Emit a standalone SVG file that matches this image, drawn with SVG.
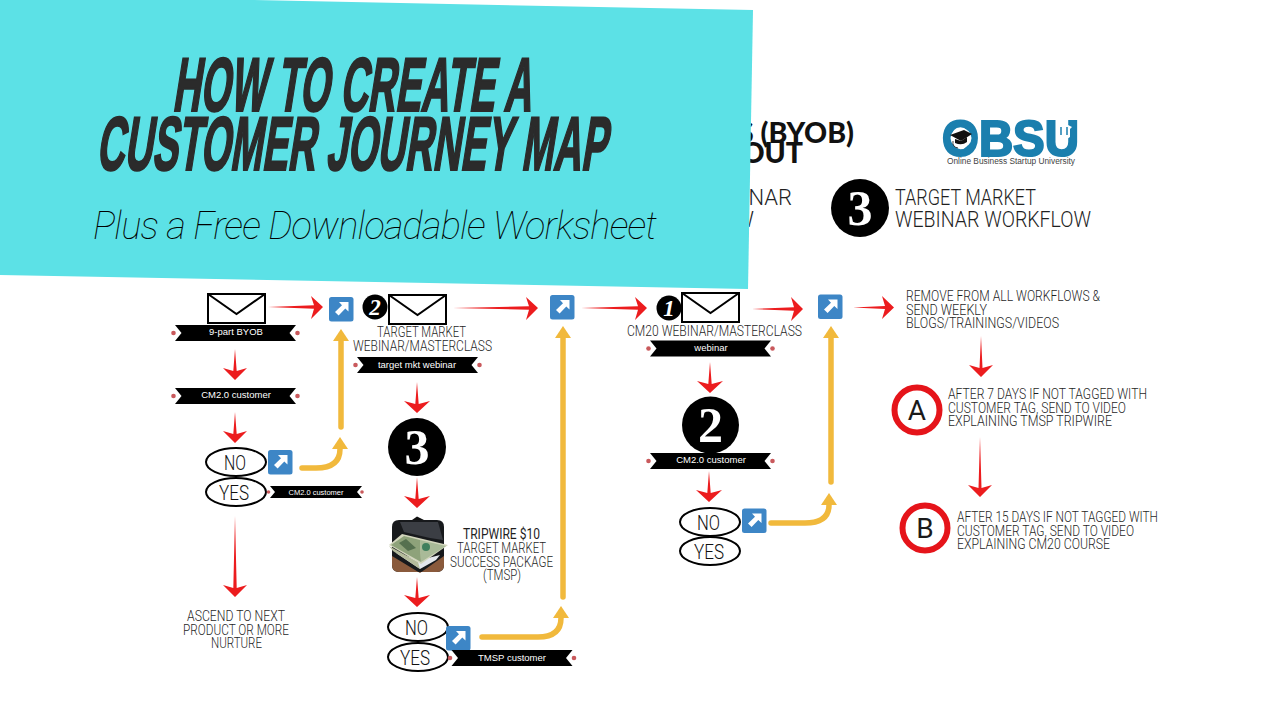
<svg xmlns="http://www.w3.org/2000/svg" width="1280" height="720" viewBox="0 0 1280 720">
<style>
.lbl{font-family:"Roboto","Liberation Sans",sans-serif;font-weight:300;fill:#1f1f1f;font-size:14px}
.rib{font-family:"Liberation Sans",Arial,sans-serif;fill:#fff;font-size:9.5px;text-anchor:middle}
.yn{font-family:"Roboto","Liberation Sans",sans-serif;font-weight:300;fill:#111;font-size:21px}
.ell{fill:#fff;stroke:#000;stroke-width:2}
.disc{fill:#000}
.num{font-family:"Liberation Serif",serif;font-weight:700;fill:#fff;text-anchor:middle}
.red{fill:#ec1c1e}
.yl{fill:none;stroke:#f1b93c;stroke-width:5.5;stroke-linecap:round}
.ring{fill:#fff;stroke:#e5141a;stroke-width:6}
.let{font-family:"Roboto","Liberation Sans",sans-serif;font-size:28px;fill:#1a1a1a;text-anchor:middle}
.title{font-family:"Liberation Sans Narrow","Liberation Sans",sans-serif;font-weight:700;font-size:76px;fill:#2b2b2b;stroke:#2b2b2b;stroke-width:2.2}
.script{font-family:"Roboto","Liberation Sans",sans-serif;font-weight:100;font-style:italic;font-size:38px;fill:#000}
.head{font-family:"Lato","Liberation Sans",sans-serif;font-weight:900;font-size:28.5px;fill:#111}
</style>
<defs>
<marker id="yh" markerUnits="userSpaceOnUse" markerWidth="12" markerHeight="16" viewBox="0 0 12 16" refX="0" refY="8" orient="auto">
<path d="M0,0 L12,8 L0,16 Z" fill="#f1b93c"/>
</marker>
<g id="env"><rect x="0" y="0" width="57" height="29" fill="#fff" stroke="#000" stroke-width="2"/><path d="M0,0 L28.5,20 L57,0" fill="none" stroke="#000" stroke-width="2"/></g>
<g id="ico"><rect width="24.5" height="24.5" rx="2.5" fill="#3d86c6"/><path d="M19.5,5 L19.5,14.5 L16.3,11.4 L9.6,18.6 L6,15 L13,8.2 L10,5 Z" fill="#fff"/></g>
<g id="ribbon"><path d="M-60.500,0 H60.500 L54,8 L60.500,16 H-60.500 L-54,8 Z" fill="#000"/><circle cx="-62" cy="8" r="2.300" fill="#c9595c"/><circle cx="62" cy="8" r="2.300" fill="#c9595c"/></g>
</defs>
<rect width="1280" height="720" fill="#fff"/>

<g id="connectors">
<path class="red" d="M268,307 L314,305.300 L311,296 L323,307 L311,319 L314,308.700 Z"/>
<path class="red" d="M453,308 L529,306.300 L526,297 L538,308 L526,320 L529,309.700 Z"/>
<path class="red" d="M581,308 L638,306.300 L635,297 L647,308 L635,320 L638,309.700 Z"/>
<path class="red" d="M752,309 L794,307.300 L791,297 L803,309 L791,321 L794,310.700 Z"/>
<path class="red" d="M853,307.500 L885,306 L882,296 L894,307.500 L882,319 L885,309 Z"/>
<path class="red" d="M235,349 L236.700,371 L247,368 L235,380 L223,368 L233.300,371 Z"/>
<path class="red" d="M235,412 L236.700,434 L247,431 L235,443 L223,431 L233.300,434 Z"/>
<path class="red" d="M235,516 L236.700,588 L247,585 L235,597 L223,585 L233.300,588 Z"/>
<path class="red" d="M417,382 L418.700,404 L430,401 L417,413 L404,401 L415.300,404 Z"/>
<path class="red" d="M417,477 L418.700,499 L430,496 L417,508 L404,496 L415.300,499 Z"/>
<path class="red" d="M417,577 L418.700,598 L430,595 L417,607 L404,595 L415.300,598 Z"/>
<path class="red" d="M710,362 L711.700,384 L723,381 L710,393 L697,381 L708.300,384 Z"/>
<path class="red" d="M709,471 L710.700,493 L722,490 L709,502 L696,490 L707.300,493 Z"/>
<path class="red" d="M981,336 L982.500,368 L993,365 L981,377 L969,365 L979.500,368 Z"/>
<path class="red" d="M980,437 L981.500,488 L992,485 L980,497 L968,485 L978.500,488 Z"/>

<path class="yl" d="M341,427 V341" marker-end="url(#yh)"/>
<path class="yl" d="M302,468 H316 Q340,468 340,449" marker-end="url(#yh)"/>
<path class="yl" d="M563,597 V338" marker-end="url(#yh)"/>
<path class="yl" d="M482,637 H538 Q561,637 561,618" marker-end="url(#yh)"/>
<path class="yl" d="M831,482 V338" marker-end="url(#yh)"/>
<path class="yl" d="M771,523 H805 Q829,523 829,505" marker-end="url(#yh)"/>
</g>

<g id="node-byob-mail"><use href="#env" x="208" y="294"/></g>
<g id="node-byob-tag"><use href="#ribbon" x="235.500" y="325"/><text class="rib" x="236" y="335">9-part BYOB</text></g>
<g id="node-cm-tag-1"><use href="#ribbon" x="235.500" y="388"/><text class="rib" x="236" y="398">CM2.0 customer</text></g>
<g id="node-no-1"><ellipse class="ell" cx="236" cy="462" rx="30" ry="14"/><text class="yn" x="224" y="470" textLength="22" lengthAdjust="spacingAndGlyphs">NO</text></g>
<g id="node-yes-1"><ellipse class="ell" cx="236" cy="492" rx="30" ry="14"/><text class="yn" x="219" y="499.500" textLength="30" lengthAdjust="spacingAndGlyphs">YES</text></g>
<g id="node-cm-tag-small"><path d="M270,486 H362 L357,492 L362,498 H270 L275,492 Z" fill="#000"/><circle cx="268.500" cy="492" r="1.800" fill="#c9595c"/><circle cx="362" cy="492" r="1.800" fill="#c9595c"/><text class="rib" x="316" y="495" style="font-size:7.500px">CM2.0 customer</text></g>
<g id="node-ascend">
<text class="lbl" x="187" y="621" textLength="98" lengthAdjust="spacingAndGlyphs">ASCEND TO NEXT</text>
<text class="lbl" x="183" y="635" textLength="106" lengthAdjust="spacingAndGlyphs">PRODUCT OR MORE</text>
<text class="lbl" x="211" y="648" textLength="51" lengthAdjust="spacingAndGlyphs">NURTURE</text>
</g>
<g id="node-icon-1"><use href="#ico" x="329" y="297"/></g>
<g id="node-icon-2"><use href="#ico" x="268" y="450"/></g>
<g id="node-icon-3"><use href="#ico" x="550" y="295"/></g>
<g id="node-icon-4"><use href="#ico" x="818" y="294.500"/></g>
<g id="node-icon-5"><use href="#ico" x="742" y="508.500"/></g>

<g id="node-tm-webinar">
<circle class="disc" cx="375" cy="307" r="12.500"/>
<text class="num" x="375" y="315" style="font-size:23px;font-style:italic">2</text>
<use href="#env" x="389" y="295"/>
<text class="lbl" x="377" y="337" textLength="89" lengthAdjust="spacingAndGlyphs">TARGET MARKET</text>
<text class="lbl" x="353" y="351" textLength="139" lengthAdjust="spacingAndGlyphs">WEBINAR/MASTERCLASS</text>
<use href="#ribbon" x="417.500" y="357"/><text class="rib" x="417" y="367.500">target mkt webinar</text>
</g>
<g id="node-three"><circle class="disc" cx="417" cy="447" r="29"/><text class="num" x="417" y="464" style="font-size:50px">3</text></g>
<g id="node-tripwire">
<path d="M412,520 L417,516.500 L424,520 Z" fill="#111"/>
<path d="M399,520 H437 Q444,520 444,527 V565 Q444,572 437,572 H399 Q392,572 392,565 V527 Q392,520 399,520 Z" fill="#17191c"/>
<path d="M400,522 H438 L443,540 L430,538 L404,532 Z" fill="#3b3e44"/>
<path d="M392,556 L420,573 L444,556 V565 Q444,572 437,572 H399 Q392,572 392,565 Z" fill="#8a5a3c"/>
<path d="M396,553 L420,569 L436,560 L440,555 L420,560 Z" fill="#e4e7ec"/>
<path d="M389,546 L418,562 L420,569 L393,551 Z" fill="#b5bb9c"/>
<path d="M389,545 L402,534 L448,545 L421,564 Z" fill="#d3d6bd"/>
<path d="M391,545 L404,536 L420,540 L421,562 Z" fill="#8ea27a"/>
<path d="M399,543 L406,539 L416,548 L408,551 Z" fill="#55704f"/>
<path d="M420,540 L446,546 L421,562 Z" fill="#a9ba98"/>
<circle cx="426" cy="547" r="4" fill="#3f7f5d"/>
<text class="lbl" x="463" y="539" textLength="77" lengthAdjust="spacingAndGlyphs" style="font-weight:400">TRIPWIRE $10</text>
<text class="lbl" x="457" y="553" textLength="89" lengthAdjust="spacingAndGlyphs">TARGET MARKET</text>
<text class="lbl" x="450" y="567" textLength="103" lengthAdjust="spacingAndGlyphs">SUCCESS PACKAGE</text>
<text class="lbl" x="483" y="580" textLength="38" lengthAdjust="spacingAndGlyphs">(TMSP)</text>
</g>
<g id="node-no-2"><ellipse class="ell" cx="418" cy="627" rx="30" ry="14"/><text class="yn" x="405" y="635" textLength="23" lengthAdjust="spacingAndGlyphs">NO</text></g>
<g id="node-yes-2"><ellipse class="ell" cx="418" cy="657" rx="30" ry="14"/><text class="yn" x="400" y="665" textLength="30" lengthAdjust="spacingAndGlyphs">YES</text></g>
<g id="node-icon-6"><use href="#ico" x="446" y="626"/></g>
<g id="node-tmsp-tag"><use href="#ribbon" x="512" y="650"/><text class="rib" x="512" y="660.500">TMSP customer</text></g>

<g id="node-cm-webinar">
<circle class="disc" cx="669" cy="308" r="12.500"/>
<text class="num" x="669" y="316" style="font-size:23px;font-style:italic">1</text>
<use href="#env" x="682" y="293"/>
<text class="lbl" x="627" y="336" textLength="175" lengthAdjust="spacingAndGlyphs">CM20 WEBINAR/MASTERCLASS</text>
<use href="#ribbon" x="710.500" y="340.500"/><text class="rib" x="711" y="350.500">webinar</text>
</g>
<g id="node-two"><circle class="disc" cx="710.500" cy="425" r="28.500"/><text class="num" x="710.500" y="442" style="font-size:50px">2</text></g>
<g id="node-cm-tag-2"><use href="#ribbon" x="710.500" y="453"/><text class="rib" x="711" y="463">CM2.0 customer</text></g>
<g id="node-no-3"><ellipse class="ell" cx="710" cy="522" rx="30" ry="14"/><text class="yn" x="697" y="530" textLength="23" lengthAdjust="spacingAndGlyphs">NO</text></g>
<g id="node-yes-3"><ellipse class="ell" cx="710" cy="551" rx="30" ry="14"/><text class="yn" x="694" y="559" textLength="30" lengthAdjust="spacingAndGlyphs">YES</text></g>

<g id="node-remove">
<text class="lbl" x="906" y="301" textLength="194" lengthAdjust="spacingAndGlyphs">REMOVE FROM ALL WORKFLOWS &amp;</text>
<text class="lbl" x="906" y="314.500" textLength="81" lengthAdjust="spacingAndGlyphs">SEND WEEKLY</text>
<text class="lbl" x="906" y="328" textLength="153" lengthAdjust="spacingAndGlyphs">BLOGS/TRAININGS/VIDEOS</text>
</g>
<g id="node-a">
<circle class="ring" cx="917" cy="410" r="22.500"/><text class="let" x="917" y="420">A</text>
<text class="lbl" x="948" y="399" textLength="199" lengthAdjust="spacingAndGlyphs">AFTER 7 DAYS IF NOT TAGGED WITH</text>
<text class="lbl" x="948" y="412.500" textLength="178" lengthAdjust="spacingAndGlyphs">CUSTOMER TAG, SEND TO VIDEO</text>
<text class="lbl" x="948" y="426" textLength="164" lengthAdjust="spacingAndGlyphs">EXPLAINING TMSP TRIPWIRE</text>
</g>
<g id="node-b">
<circle class="ring" cx="925" cy="528" r="22.500"/><text class="let" x="925" y="538">B</text>
<text class="lbl" x="957" y="522" textLength="201" lengthAdjust="spacingAndGlyphs">AFTER 15 DAYS IF NOT TAGGED WITH</text>
<text class="lbl" x="957" y="535.500" textLength="177" lengthAdjust="spacingAndGlyphs">CUSTOMER TAG, SEND TO VIDEO</text>
<text class="lbl" x="957" y="549" textLength="153" lengthAdjust="spacingAndGlyphs">EXPLAINING CM20 COURSE</text>
</g>

<g id="heading-behind">
<text class="head" x="854" y="143" text-anchor="end">S (BYOB)</text>
<text class="head" x="803" y="163" text-anchor="end">OUT</text>
<text class="lbl" x="792" y="205" text-anchor="end" style="font-size:22px">INAR</text>
<text class="lbl" x="754" y="227" text-anchor="end" style="font-size:22px">W</text>
</g>
<g id="logo">
<text x="942" y="155.500" textLength="137" lengthAdjust="spacingAndGlyphs" style="font-family:'Liberation Sans',sans-serif;font-weight:700;font-size:50px;fill:#1b7fae;stroke:#1b7fae;stroke-width:2.2">OBSU</text>
<ellipse cx="961" cy="138" rx="10.500" ry="10" fill="#fff"/>
<path d="M950,135 L964,130 L972,134 L961,141 Z" fill="#111"/>
<path d="M955,139 V143 Q962,146 967,142 V137 L961,141 Z" fill="#111"/>
<path d="M953,141 Q952,147 958,148" fill="none" stroke="#111" stroke-width="0.800"/>
<path d="M1056,127 L1064,123 L1072,127 L1070,129 V137 Q1064,142 1058,137 V129 Z" fill="#fff"/>
<path d="M1061,127 V135 M1067,127 V135" stroke="#1b7fae" stroke-width="1.500"/>
<text x="947" y="164" textLength="128" lengthAdjust="spacingAndGlyphs" style="font-family:'Liberation Sans',sans-serif;font-size:8.500px;fill:#444">Online Business Startup University</text>
</g>
<g id="node-three-head">
<circle class="disc" cx="860" cy="208" r="29"/><text class="num" x="860" y="225" style="font-size:50px">3</text>
<text class="lbl" x="895" y="205" textLength="141" lengthAdjust="spacingAndGlyphs" style="font-size:22px">TARGET MARKET</text>
<text class="lbl" x="895" y="227" textLength="196" lengthAdjust="spacingAndGlyphs" style="font-size:22px">WEBINAR WORKFLOW</text>
</g>

<g id="banner">
<path d="M0,0 L250,0 L753,10 L748,289 L0,275 Z" fill="#5ce1e6"/>
<text class="title" transform="translate(172,111) skewX(-9)" x="0" y="0" textLength="359" lengthAdjust="spacingAndGlyphs">HOW TO CREATE A</text>
<text class="title" transform="translate(96,170) skewX(-9)" x="0" y="0" textLength="510" lengthAdjust="spacingAndGlyphs">CUSTOMER JOURNEY MAP</text>
<text class="script" x="93" y="239" textLength="564" lengthAdjust="spacing">Plus a Free Downloadable Worksheet</text>
</g>
</svg>
